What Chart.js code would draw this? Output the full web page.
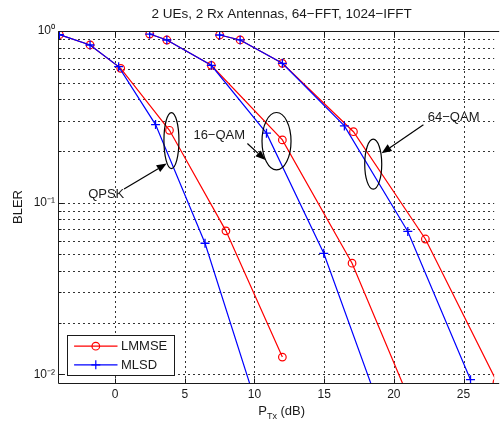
<!DOCTYPE html>
<html><head><meta charset="utf-8">
<script src="https://cdn.jsdelivr.net/npm/chart.js@4/dist/chart.umd.min.js"></script>
<style>html,body{margin:0;padding:0;background:#fff;overflow:hidden}#wrap{width:500px;height:421px}</style>
</head><body><div id="wrap"><canvas id="c" width="500" height="421"></canvas></div>
<script>
// ---- data ----
const chartTitle = '2 UEs, 2 Rx Antennas, 64\u2212FFT, 1024\u2212IFFT';
const yAxisLabel = 'BLER';
const xAxisLabelMain = 'P', xAxisLabelSub = 'Tx', xAxisLabelUnit = ' (dB)';
const xTicks = [0, 5, 10, 15, 20, 25];
const yTicks = [0.01,0.02,0.03,0.04,0.05,0.06,0.07,0.08,0.09,0.1,0.2,0.3,0.4,0.5,0.6,0.7,0.8,0.9,1];
const yTickLabels = {'1': '10\u2070', '0.1': '10\u207B\u00B9', '0.01': '10\u207B\u00B2'};
const legendLabels = ['LMMSE', 'MLSD'];

const qpskLmmseX = [-4, -1.8, 0.4, 3.9, 7.95, 12];
const qpskLmmseY = [0.952, 0.829, 0.606, 0.264, 0.0685, 0.0126];
const qpskMlsdX  = [-4, -1.8, 0.25, 2.9, 6.45, 10.1];
const qpskMlsdY  = [0.952, 0.829, 0.62, 0.285, 0.058, 0.0068];

const qam16LmmseX = [2.48, 3.71, 6.9, 12.0, 17.0, 22.0];
const qam16LmmseY = [0.96, 0.886, 0.631, 0.232, 0.0444, 0.0048];
const qam16MlsdX  = [2.48, 3.71, 6.9, 10.86, 14.97, 19.1];
const qam16MlsdY  = [0.96, 0.886, 0.631, 0.254, 0.0507, 0.006];

const qam64LmmseX = [7.5, 8.97, 12.0, 17.1, 22.26, 27.4];
const qam64LmmseY = [0.948, 0.887, 0.648, 0.259, 0.0614, 0.009];
const qam64MlsdX  = [7.5, 8.97, 12.0, 16.45, 21.0, 25.5];
const qam64MlsdY  = [0.948, 0.887, 0.648, 0.280, 0.068, 0.0093];

// annotations: label, text anchor, arrow tail, arrow head, ellipse centre (data coords)
const annLabels   = ['QPSK', '16\u2212QAM', '64\u2212QAM'];
const annTextPos  = [[-0.64, 0.111], [7.47, 0.248], [24.29, 0.313]];
const annArrowFrom= [[0.64, 0.120], [9.49, 0.221], [22.12, 0.284]];
const annArrowTo  = [[3.70, 0.169], [10.79, 0.177], [19.12, 0.194]];
const annEllipse  = [[4.04, 0.230], [11.58, 0.228], [18.52, 0.1675]];
const annEllipseR = [[7.5, 28], [14.5, 28.7], [8.5, 25]];

const RED = '#ff0000', BLUE = '#0000ff', INK = '#1a1a1a';
const FONT = '"Liberation Sans", Arial, Helvetica, sans-serif';

function pts(xs, ys) { return xs.map((v, i) => ({x: v, y: ys[i]})); }
function lmmse(xs, ys) {
  return {label: legendLabels[0], data: pts(xs, ys), showLine: true, borderColor: RED, backgroundColor: 'rgba(0,0,0,0)',
    borderWidth: 1.2, pointStyle: 'circle', pointRadius: 3.8, pointBorderWidth: 1.2, pointBorderColor: RED,
    pointBackgroundColor: 'rgba(0,0,0,0)', order: 1, clip: 0, tension: 0};
}
function mlsd(xs, ys) {
  return {label: legendLabels[1], data: pts(xs, ys), showLine: true, borderColor: BLUE, backgroundColor: 'rgba(0,0,0,0)',
    borderWidth: 1.2, pointStyle: 'cross', pointRadius: 4.5, pointBorderWidth: 1.3, pointBorderColor: BLUE,
    order: 0, clip: 0, tension: 0};
}

const decor = {
  id: 'decor',
  beforeDatasetsDraw(chart) {
    const {ctx, chartArea: a, scales: {x, y}} = chart;
    ctx.save();
    ctx.strokeStyle = '#333'; ctx.lineWidth = 1; ctx.setLineDash([2, 3]);
    ctx.beginPath();
    xTicks.forEach(v => { const p = Math.round(x.getPixelForValue(v)) + 0.5; ctx.moveTo(p, a.top); ctx.lineTo(p, a.bottom); });
    yTicks.forEach(v => { if (v >= 1) return; const p = Math.round(y.getPixelForValue(v)) + 0.5; ctx.moveTo(a.left, p); ctx.lineTo(a.right, p); });
    ctx.stroke();
    ctx.restore();
  },
  afterDatasetsDraw(chart) {
    const {ctx, chartArea: a, scales: {x, y}} = chart;
    ctx.save();
    // frame
    ctx.strokeStyle = INK; ctx.lineWidth = 1; ctx.setLineDash([]);
    const L = Math.round(a.left) + 0.5, T = Math.round(a.top) + 0.5, B = Math.round(a.bottom) + 0.5, R = a.right + 5;
    ctx.beginPath(); ctx.moveTo(R, T); ctx.lineTo(L, T); ctx.lineTo(L, B); ctx.lineTo(R, B); ctx.stroke();
    // inner tick marks
    ctx.beginPath();
    xTicks.forEach(v => { const p = Math.round(x.getPixelForValue(v)) + 0.5; ctx.moveTo(p, B); ctx.lineTo(p, B - 5); ctx.moveTo(p, T); ctx.lineTo(p, T + 5); });
    yTicks.forEach(v => { const p = Math.round(y.getPixelForValue(v)) + 0.5; const len = yTickLabels[String(v)] ? 5 : 3; ctx.moveTo(L, p); ctx.lineTo(L + len, p); });
    ctx.stroke();
    // annotations
    ctx.strokeStyle = '#000'; ctx.fillStyle = '#000'; ctx.lineWidth = 1.2;
    annEllipse.forEach((c, i) => {
      const cx = x.getPixelForValue(c[0]), cy = y.getPixelForValue(c[1]);
      ctx.beginPath(); ctx.ellipse(cx, cy, annEllipseR[i][0], annEllipseR[i][1], 0, 0, Math.PI * 2); ctx.stroke();
      const fx = x.getPixelForValue(annArrowFrom[i][0]), fy = y.getPixelForValue(annArrowFrom[i][1]);
      const tx = x.getPixelForValue(annArrowTo[i][0]), ty = y.getPixelForValue(annArrowTo[i][1]);
      const ang = Math.atan2(ty - fy, tx - fx), hl = 10, hw = 4;
      const bx = tx - hl * Math.cos(ang), by = ty - hl * Math.sin(ang);
      ctx.beginPath(); ctx.moveTo(fx, fy); ctx.lineTo(bx, by); ctx.stroke();
      ctx.beginPath(); ctx.moveTo(tx, ty);
      ctx.lineTo(bx + hw * Math.sin(ang), by - hw * Math.cos(ang));
      ctx.lineTo(bx - hw * Math.sin(ang), by + hw * Math.cos(ang));
      ctx.closePath(); ctx.fill();
      ctx.fillStyle = INK; ctx.font = '13px ' + FONT; ctx.textAlign = 'center'; ctx.textBaseline = 'middle';
      ctx.fillText(annLabels[i], x.getPixelForValue(annTextPos[i][0]), y.getPixelForValue(annTextPos[i][1]));
      ctx.fillStyle = '#000';
    });
    ctx.restore();
  },
  afterDraw(chart) {
    const {ctx, chartArea: a, scales: {x}} = chart;
    ctx.save();
    // title
    ctx.fillStyle = INK; ctx.font = '13.5px ' + FONT; ctx.textAlign = 'center'; ctx.textBaseline = 'middle';
    const mid = (a.left + x.getPixelForValue(28)) / 2;
    ctx.fillText(chartTitle, mid, 14);
    // y label
    ctx.save(); ctx.translate(18, (a.top + a.bottom) / 2); ctx.rotate(-Math.PI / 2);
    ctx.font = '13px ' + FONT; ctx.fillText(yAxisLabel, 0, 0); ctx.restore();
    // x label with subscript
    ctx.textAlign = 'left'; ctx.textBaseline = 'alphabetic';
    ctx.font = '13px ' + FONT; const w1 = ctx.measureText(xAxisLabelMain).width, w3 = ctx.measureText(xAxisLabelUnit).width;
    ctx.font = '9px ' + FONT; const w2 = ctx.measureText(xAxisLabelSub).width;
    let sx = mid - (w1 + w2 + w3) / 2; const base = 415;
    ctx.font = '13px ' + FONT; ctx.fillText(xAxisLabelMain, sx, base); sx += w1;
    ctx.font = '9px ' + FONT; ctx.fillText(xAxisLabelSub, sx, base + 4); sx += w2;
    ctx.font = '13px ' + FONT; ctx.fillText(xAxisLabelUnit, sx, base);
    // legend
    const lx = Math.round(a.left + 8.7) + 0.5, lb = Math.round(a.bottom - 8) + 0.5, lw = 107, lh = 40;
    ctx.fillStyle = '#fff'; ctx.fillRect(lx, lb - lh, lw, lh);
    ctx.strokeStyle = INK; ctx.lineWidth = 1; ctx.strokeRect(lx, lb - lh, lw, lh);
    const rows = [lb - lh + 10.7, lb - lh + 29.3];
    const cols = [RED, BLUE], styles = ['circle', 'cross'], rads = [3.8, 4.5];
    rows.forEach((ry, i) => {
      ctx.strokeStyle = cols[i]; ctx.lineWidth = 1.2;
      ctx.beginPath(); ctx.moveTo(lx + 6.6, ry); ctx.lineTo(lx + 50, ry); ctx.stroke();
      ctx.fillStyle = 'rgba(0,0,0,0)';
      Chart.helpers.drawPoint(ctx, {pointStyle: styles[i], radius: rads[i], borderWidth: 1.2, rotation: 0}, lx + 28.3, ry);
      ctx.fillStyle = INK; ctx.font = '13px ' + FONT; ctx.textAlign = 'left'; ctx.textBaseline = 'middle';
      ctx.fillText(legendLabels[i], lx + 53.5, ry + 0.5);
    });
    ctx.restore();
  }
};

new Chart(document.getElementById('c'), {
  type: 'scatter',
  data: {datasets: [
    mlsd(qpskMlsdX, qpskMlsdY), mlsd(qam16MlsdX, qam16MlsdY), mlsd(qam64MlsdX, qam64MlsdY),
    lmmse(qpskLmmseX, qpskLmmseY), lmmse(qam16LmmseX, qam16LmmseY), lmmse(qam64LmmseX, qam64LmmseY)
  ]},
  options: {
    responsive: false, animation: false, devicePixelRatio: 1,
    layout: {padding: {top: 31, left: 0, right: 0, bottom: 0}},
    plugins: {legend: {display: false}, tooltip: {enabled: false}, title: {display: false}},
    scales: {
      x: {type: 'linear', min: -4.1, max: 27.2,
        afterBuildTicks: s => { s.ticks = xTicks.map(v => ({value: v})); },
        afterFit: s => { s.height = 38; },
        ticks: {color: INK, font: {family: FONT, size: 12}, padding: 4, maxRotation: 0, autoSkip: false},
        grid: {display: false, drawTicks: false}, border: {display: false}},
      y: {type: 'logarithmic', min: 0.0089, max: 1,
        afterBuildTicks: s => { s.ticks = yTicks.map(v => ({value: v})); },
        afterFit: s => { s.width = 58; },
        ticks: {color: INK, font: {family: FONT, size: 12}, padding: 3, autoSkip: false,
          callback: v => yTickLabels[String(v)] || ''},
        grid: {display: false, drawTicks: false}, border: {display: false}}
    }
  },
  plugins: [decor]
});
</script></body></html>
